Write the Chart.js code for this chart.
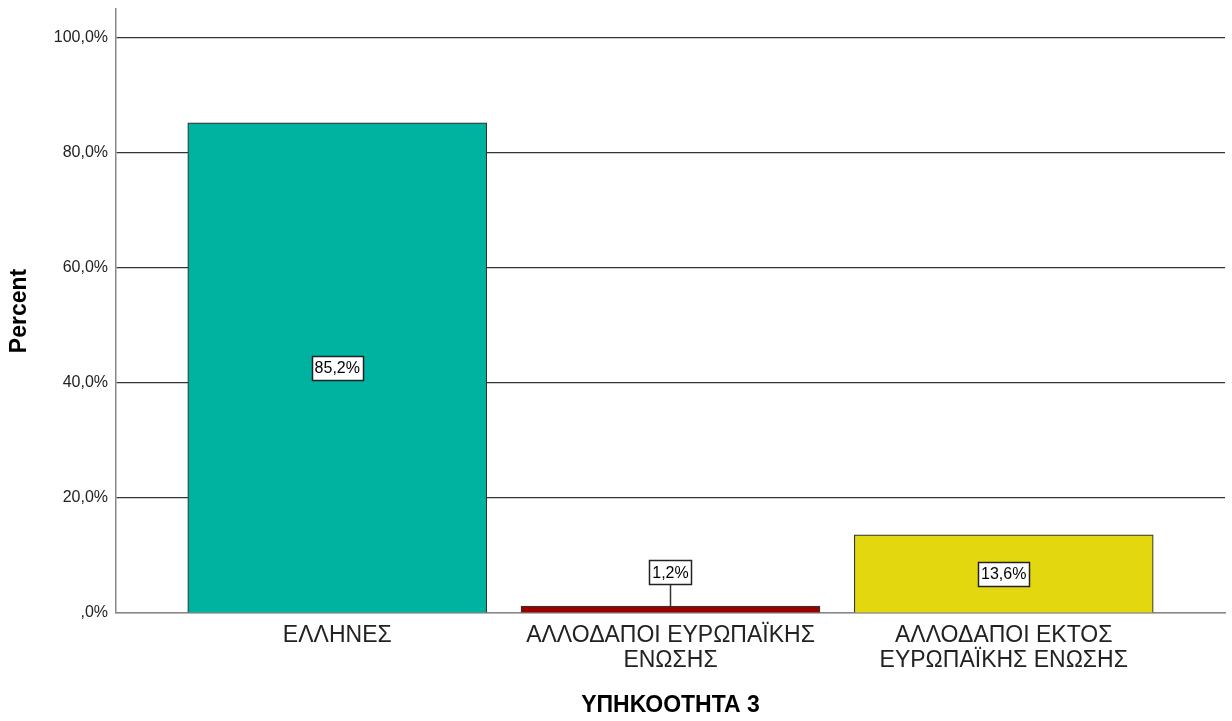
<!DOCTYPE html>
<html>
<head>
<meta charset="utf-8">
<script src="https://cdn.jsdelivr.net/npm/chart.js@4"></script>
<style>
  html, body { margin: 0; padding: 0; background: #fff; }
  #wrap { width: 1232px; height: 721px; }
</style>
</head>
<body>
<div id="wrap"><canvas id="myChart" width="1232" height="721"></canvas></div>
<script>
var categories = [
  ['ΕΛΛΗΝΕΣ'],
  ['ΑΛΛΟΔΑΠΟΙ ΕΥΡΩΠΑΪΚΗΣ', 'ΕΝΩΣΗΣ'],
  ['ΑΛΛΟΔΑΠΟΙ ΕΚΤΟΣ', 'ΕΥΡΩΠΑΪΚΗΣ ΕΝΩΣΗΣ']
];
var percents = [85.2, 1.2, 13.6];
var barColors = ['#00B3A1', '#990000', '#E3D70F'];
var yTicks = [0, 20, 40, 60, 80, 100];

var FONT = '"Liberation Sans", Arial, sans-serif';

function fmt(v) {
  var s = v.toFixed(1).replace('.', ',');
  return (s.indexOf('0,') === 0 ? s.slice(1) : s) + '%';
}

// white boxes with the value, like SPSS
var boxLabels = {
  id: 'boxLabels',
  afterDatasetsDraw: function(chart) {
    var c = chart.ctx;
    var meta = chart.getDatasetMeta(0);
    c.save();
    c.font = '16px ' + FONT;
    c.textAlign = 'center';
    c.textBaseline = 'middle';
    meta.data.forEach(function(bar, i) {
      var txt = fmt(percents[i]);
      var w = Math.round(c.measureText(txt).width + 6);
      var h = 24;
      var cy = (bar.y + bar.base) / 2;
      var small = bar.base - bar.y < h + 10;
      if (small) cy = bar.y - 34;
      if (small) {
        c.strokeStyle = '#333';
        c.lineWidth = 1.5;
        c.beginPath();
        c.moveTo(Math.round(bar.x) + 0.5, cy + h / 2);
        c.lineTo(Math.round(bar.x) + 0.5, bar.y);
        c.stroke();
      }
      var x0 = Math.round(bar.x - w / 2) + 0.5, y0 = Math.round(cy - h / 2) + 0.5;
      c.fillStyle = '#fff';
      c.fillRect(x0, y0, w, h);
      c.strokeStyle = '#222';
      c.lineWidth = 1.5;
      c.strokeRect(x0, y0, w, h);
      c.fillStyle = '#000';
      c.fillText(txt, bar.x, cy + 1);
    });
    c.restore();
  }
};

var ctx = document.getElementById('myChart').getContext('2d');

var myChart = new Chart(ctx, {
  type: 'bar',
  data: {
    datasets: [{
      data: percents.map(function(v, i) { return { x: i + 1, y: v }; }),
      backgroundColor: barColors,
      borderColor: '#333',
      borderWidth: 1.2,
      barThickness: 299
    }]
  },
  options: {
    responsive: false,
    animation: false,
    layout: { padding: { top: 9, right: 7, left: 0, bottom: 0 } },
    plugins: {
      legend: { display: false },
      tooltip: { enabled: false }
    },
    scales: {
      x: {
        type: 'linear',
        offset: false,
        min: 0.336,
        max: 3.664,
        afterBuildTicks: function(scale) {
          scale.ticks = [1, 2, 3].map(function(v) { return { value: v }; });
        },
        afterFit: function(scale) { scale.height = 108; },
        grid: { display: false, drawTicks: false },
        border: { color: '#888', width: 1.5 },
        ticks: {
          autoSkip: false,
          maxRotation: 0,
          padding: 11,
          color: '#222',
          font: { family: FONT, size: 23, lineHeight: 1.05 },
          callback: function(v) { return categories[v - 1]; }
        },
        title: {
          display: true,
          text: 'ΥΠΗΚΟΟΤΗΤΑ 3',
          color: '#000',
          padding: { top: 0, bottom: 2 },
          font: { family: FONT, size: 23, weight: 'bold' }
        }
      },
      y: {
        min: 0,
        max: 105,
        afterBuildTicks: function(scale) {
          scale.ticks = yTicks.map(function(v) { return { value: v }; });
        },
        afterFit: function(scale) {
          scale.width = 116;
          scale.paddingTop = 0;
          scale.paddingBottom = 0;
        },
        grid: {
          drawTicks: false,
          lineWidth: 1.2,
          color: function(c) { return c.tick && c.tick.value === 0 ? '#888' : '#333'; }
        },
        border: { color: '#888', width: 1.5 },
        ticks: {
          padding: 8,
          color: '#222',
          font: { family: FONT, size: 16 },
          callback: function(v) { return fmt(v); }
        },
        title: {
          display: true,
          text: 'Percent',
          color: '#000',
          padding: { top: 6, bottom: 0 },
          font: { family: FONT, size: 23, weight: 'bold' }
        }
      }
    }
  },
  plugins: [boxLabels]
});
</script>
</body>
</html>
